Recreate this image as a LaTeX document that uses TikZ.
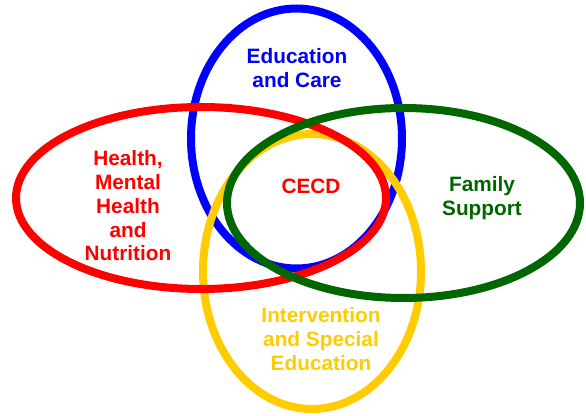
\documentclass[tikz,border=0pt]{standalone}
\usepackage{fontspec}
\setmainfont{Liberation Sans}
\usepackage{tikz}
\usetikzlibrary{positioning}

\definecolor{ecBlue}{RGB}{0,0,255}
\definecolor{ecRed}{RGB}{255,0,0}
\definecolor{ecGreen}{RGB}{0,102,0}
\definecolor{ecYellow}{RGB}{255,204,0}

\tikzset{
  ring/.style={line width=6pt},
  label/.style={inner sep=0.75pt, align=center, font=\fontsize{15.6}{17.8}\selectfont\bfseries}
}

\begin{document}
\begin{tikzpicture}[x=0.75pt,y=0.75pt,yscale=-1,xscale=1]
		\useasboundingbox (0,0) rectangle (586,416);

		%Shape: Ellipse [blue]
		\draw [ring, color=ecBlue] (296.5,138.5) ellipse (105.5 and 130);
		%Shape: Ellipse [yellow]
		\draw [ring, color=ecYellow] (312,271.5) ellipse (109 and 137.5);
		%Shape: Ellipse [red]
		\draw [ring, color=ecRed] (201,198) ellipse (185 and 91);
		%Shape: Ellipse [green]
		\draw [ring, color=ecGreen] (403.5,203) ellipse (176.5 and 95);

		% Text Node
		\node [label, color=ecBlue] (care) at (297,68) {Education\\and Care};
		% Text Node
		\node [label, color=ecRed] (health) at (128,206) {Health,\\Mental\\Health\\and\\Nutrition};
		% Text Node
		\node [label, color=ecRed] (cecd) at (311,186) {CECD};
		% Text Node
		\node [label, color=ecGreen] (family) at (482,198) {Family\\Support};
		% Text Node
		\node [label, color=ecYellow] (special) at (321,339) {Intervention\\and Special\\Education};

	\end{tikzpicture}
\end{document}
